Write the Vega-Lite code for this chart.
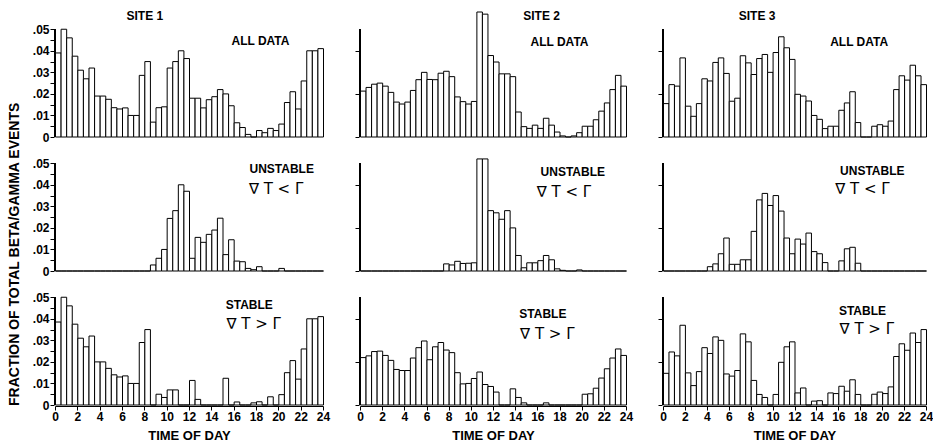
{
"$schema":"https://vega.github.io/schema/vega-lite/v6.json",
"background":"white",
"padding":{"left":7,"top":9,"right":2,"bottom":2},
"config":{"view":{"stroke":null},"font":"Liberation Sans",
"axis":{"labelFont":"Liberation Sans","labelFontWeight":"bold","labelFontSize":12,"labelColor":"black","domainColor":"black","tickColor":"black","grid":false,"labelOverlap":false,"titleFont":"Liberation Sans","titleFontWeight":"bold","titleFontSize":13,"titleColor":"black"},
"header":{"titleFont":"Liberation Sans","titleFontWeight":"bold","titleFontSize":14,"titleColor":"black"},
"title":{"font":"Liberation Sans","fontWeight":"bold","fontSize":12,"color":"black","anchor":"middle"}},
"datasets":{"d":[
{"site":1,"cond":"A","hour":0,"frac":0.039},{"site":1,"cond":"A","hour":0.5,"frac":0.05},{"site":1,"cond":"A","hour":1,"frac":0.046},{"site":1,"cond":"A","hour":1.5,"frac":0.0375},{"site":1,"cond":"A","hour":2,"frac":0.031},{"site":1,"cond":"A","hour":2.5,"frac":0.027},{"site":1,"cond":"A","hour":3,"frac":0.032},{"site":1,"cond":"A","hour":3.5,"frac":0.019},{"site":1,"cond":"A","hour":4,"frac":0.019},{"site":1,"cond":"A","hour":4.5,"frac":0.0175},{"site":1,"cond":"A","hour":5,"frac":0.0136},{"site":1,"cond":"A","hour":5.5,"frac":0.013},{"site":1,"cond":"A","hour":6,"frac":0.0135},{"site":1,"cond":"A","hour":6.5,"frac":0.01},{"site":1,"cond":"A","hour":7,"frac":0.01},{"site":1,"cond":"A","hour":7.5,"frac":0.0286},{"site":1,"cond":"A","hour":8,"frac":0.035},{"site":1,"cond":"A","hour":8.5,"frac":0.0069},{"site":1,"cond":"A","hour":9,"frac":0.0136},{"site":1,"cond":"A","hour":9.5,"frac":0.014},{"site":1,"cond":"A","hour":10,"frac":0.032},{"site":1,"cond":"A","hour":10.5,"frac":0.035},{"site":1,"cond":"A","hour":11,"frac":0.04},{"site":1,"cond":"A","hour":11.5,"frac":0.0364},{"site":1,"cond":"A","hour":12,"frac":0.018},{"site":1,"cond":"A","hour":12.5,"frac":0.018},{"site":1,"cond":"A","hour":13,"frac":0.0135},{"site":1,"cond":"A","hour":13.5,"frac":0.0173},{"site":1,"cond":"A","hour":14,"frac":0.0187},{"site":1,"cond":"A","hour":14.5,"frac":0.022},{"site":1,"cond":"A","hour":15,"frac":0.02},{"site":1,"cond":"A","hour":15.5,"frac":0.0145},{"site":1,"cond":"A","hour":16,"frac":0.0066},{"site":1,"cond":"A","hour":16.5,"frac":0.0044},{"site":1,"cond":"A","hour":17,"frac":0.0012},{"site":1,"cond":"A","hour":17.5,"frac":0},{"site":1,"cond":"A","hour":18,"frac":0.003},{"site":1,"cond":"A","hour":18.5,"frac":0.002},{"site":1,"cond":"A","hour":19,"frac":0.004},{"site":1,"cond":"A","hour":19.5,"frac":0.003},{"site":1,"cond":"A","hour":20,"frac":0.006},{"site":1,"cond":"A","hour":20.5,"frac":0.016},{"site":1,"cond":"A","hour":21,"frac":0.021},{"site":1,"cond":"A","hour":21.5,"frac":0.013},{"site":1,"cond":"A","hour":22,"frac":0.026},{"site":1,"cond":"A","hour":22.5,"frac":0.04},{"site":1,"cond":"A","hour":23,"frac":0.04},{"site":1,"cond":"A","hour":23.5,"frac":0.041},
{"site":1,"cond":"U","hour":0,"frac":0},{"site":1,"cond":"U","hour":0.5,"frac":0},{"site":1,"cond":"U","hour":1,"frac":0},{"site":1,"cond":"U","hour":1.5,"frac":0},{"site":1,"cond":"U","hour":2,"frac":0},{"site":1,"cond":"U","hour":2.5,"frac":0},{"site":1,"cond":"U","hour":3,"frac":0},{"site":1,"cond":"U","hour":3.5,"frac":0},{"site":1,"cond":"U","hour":4,"frac":0},{"site":1,"cond":"U","hour":4.5,"frac":0},{"site":1,"cond":"U","hour":5,"frac":0},{"site":1,"cond":"U","hour":5.5,"frac":0},{"site":1,"cond":"U","hour":6,"frac":0},{"site":1,"cond":"U","hour":6.5,"frac":0},{"site":1,"cond":"U","hour":7,"frac":0},{"site":1,"cond":"U","hour":7.5,"frac":0},{"site":1,"cond":"U","hour":8,"frac":0},{"site":1,"cond":"U","hour":8.5,"frac":0.0028},{"site":1,"cond":"U","hour":9,"frac":0.0059},{"site":1,"cond":"U","hour":9.5,"frac":0.01},{"site":1,"cond":"U","hour":10,"frac":0.0244},{"site":1,"cond":"U","hour":10.5,"frac":0.028},{"site":1,"cond":"U","hour":11,"frac":0.04},{"site":1,"cond":"U","hour":11.5,"frac":0.037},{"site":1,"cond":"U","hour":12,"frac":0.0059},{"site":1,"cond":"U","hour":12.5,"frac":0.0156},{"site":1,"cond":"U","hour":13,"frac":0.0133},{"site":1,"cond":"U","hour":13.5,"frac":0.017},{"site":1,"cond":"U","hour":14,"frac":0.019},{"site":1,"cond":"U","hour":14.5,"frac":0.0245},{"site":1,"cond":"U","hour":15,"frac":0.0076},{"site":1,"cond":"U","hour":15.5,"frac":0.0145},{"site":1,"cond":"U","hour":16,"frac":0.0046},{"site":1,"cond":"U","hour":16.5,"frac":0.0043},{"site":1,"cond":"U","hour":17,"frac":0.0012},{"site":1,"cond":"U","hour":17.5,"frac":0.0006},{"site":1,"cond":"U","hour":18,"frac":0.002},{"site":1,"cond":"U","hour":18.5,"frac":0},{"site":1,"cond":"U","hour":19,"frac":0},{"site":1,"cond":"U","hour":19.5,"frac":0},{"site":1,"cond":"U","hour":20,"frac":0.0012},{"site":1,"cond":"U","hour":20.5,"frac":0},{"site":1,"cond":"U","hour":21,"frac":0},{"site":1,"cond":"U","hour":21.5,"frac":0},{"site":1,"cond":"U","hour":22,"frac":0},{"site":1,"cond":"U","hour":22.5,"frac":0},{"site":1,"cond":"U","hour":23,"frac":0},{"site":1,"cond":"U","hour":23.5,"frac":0},
{"site":1,"cond":"S","hour":0,"frac":0.0385},{"site":1,"cond":"S","hour":0.5,"frac":0.05},{"site":1,"cond":"S","hour":1,"frac":0.046},{"site":1,"cond":"S","hour":1.5,"frac":0.0375},{"site":1,"cond":"S","hour":2,"frac":0.031},{"site":1,"cond":"S","hour":2.5,"frac":0.027},{"site":1,"cond":"S","hour":3,"frac":0.032},{"site":1,"cond":"S","hour":3.5,"frac":0.02},{"site":1,"cond":"S","hour":4,"frac":0.02},{"site":1,"cond":"S","hour":4.5,"frac":0.017},{"site":1,"cond":"S","hour":5,"frac":0.014},{"site":1,"cond":"S","hour":5.5,"frac":0.013},{"site":1,"cond":"S","hour":6,"frac":0.0135},{"site":1,"cond":"S","hour":6.5,"frac":0.01},{"site":1,"cond":"S","hour":7,"frac":0.01},{"site":1,"cond":"S","hour":7.5,"frac":0.029},{"site":1,"cond":"S","hour":8,"frac":0.035},{"site":1,"cond":"S","hour":8.5,"frac":0},{"site":1,"cond":"S","hour":9,"frac":0.005},{"site":1,"cond":"S","hour":9.5,"frac":0.0035},{"site":1,"cond":"S","hour":10,"frac":0.007},{"site":1,"cond":"S","hour":10.5,"frac":0.007},{"site":1,"cond":"S","hour":11,"frac":0},{"site":1,"cond":"S","hour":11.5,"frac":0},{"site":1,"cond":"S","hour":12,"frac":0.0114},{"site":1,"cond":"S","hour":12.5,"frac":0.0026},{"site":1,"cond":"S","hour":13,"frac":0},{"site":1,"cond":"S","hour":13.5,"frac":0},{"site":1,"cond":"S","hour":14,"frac":0},{"site":1,"cond":"S","hour":14.5,"frac":0},{"site":1,"cond":"S","hour":15,"frac":0.0124},{"site":1,"cond":"S","hour":15.5,"frac":0},{"site":1,"cond":"S","hour":16,"frac":0.0014},{"site":1,"cond":"S","hour":16.5,"frac":0},{"site":1,"cond":"S","hour":17,"frac":0},{"site":1,"cond":"S","hour":17.5,"frac":0.001},{"site":1,"cond":"S","hour":18,"frac":0.0015},{"site":1,"cond":"S","hour":18.5,"frac":0},{"site":1,"cond":"S","hour":19,"frac":0.0038},{"site":1,"cond":"S","hour":19.5,"frac":0},{"site":1,"cond":"S","hour":20,"frac":0.0048},{"site":1,"cond":"S","hour":20.5,"frac":0.015},{"site":1,"cond":"S","hour":21,"frac":0.0206},{"site":1,"cond":"S","hour":21.5,"frac":0.012},{"site":1,"cond":"S","hour":22,"frac":0.026},{"site":1,"cond":"S","hour":22.5,"frac":0.04},{"site":1,"cond":"S","hour":23,"frac":0.04},{"site":1,"cond":"S","hour":23.5,"frac":0.041},
{"site":2,"cond":"A","hour":0,"frac":0.0213},{"site":2,"cond":"A","hour":0.5,"frac":0.023},{"site":2,"cond":"A","hour":1,"frac":0.0245},{"site":2,"cond":"A","hour":1.5,"frac":0.025},{"site":2,"cond":"A","hour":2,"frac":0.0236},{"site":2,"cond":"A","hour":2.5,"frac":0.0207},{"site":2,"cond":"A","hour":3,"frac":0.0162},{"site":2,"cond":"A","hour":3.5,"frac":0.0153},{"site":2,"cond":"A","hour":4,"frac":0.0162},{"site":2,"cond":"A","hour":4.5,"frac":0.0216},{"site":2,"cond":"A","hour":5,"frac":0.0266},{"site":2,"cond":"A","hour":5.5,"frac":0.03},{"site":2,"cond":"A","hour":6,"frac":0.0267},{"site":2,"cond":"A","hour":6.5,"frac":0.0266},{"site":2,"cond":"A","hour":7,"frac":0.0296},{"site":2,"cond":"A","hour":7.5,"frac":0.0305},{"site":2,"cond":"A","hour":8,"frac":0.028},{"site":2,"cond":"A","hour":8.5,"frac":0.0186},{"site":2,"cond":"A","hour":9,"frac":0.0164},{"site":2,"cond":"A","hour":9.5,"frac":0.0153},{"site":2,"cond":"A","hour":10,"frac":0.0165},{"site":2,"cond":"A","hour":10.5,"frac":0.058},{"site":2,"cond":"A","hour":11,"frac":0.057},{"site":2,"cond":"A","hour":11.5,"frac":0.0378},{"site":2,"cond":"A","hour":12,"frac":0.0348},{"site":2,"cond":"A","hour":12.5,"frac":0.0293},{"site":2,"cond":"A","hour":13,"frac":0.0293},{"site":2,"cond":"A","hour":13.5,"frac":0.028},{"site":2,"cond":"A","hour":14,"frac":0.0116},{"site":2,"cond":"A","hour":14.5,"frac":0.0048},{"site":2,"cond":"A","hour":15,"frac":0.004},{"site":2,"cond":"A","hour":15.5,"frac":0.0055},{"site":2,"cond":"A","hour":16,"frac":0.004},{"site":2,"cond":"A","hour":16.5,"frac":0.0087},{"site":2,"cond":"A","hour":17,"frac":0.0055},{"site":2,"cond":"A","hour":17.5,"frac":0.0023},{"site":2,"cond":"A","hour":18,"frac":0.0005},{"site":2,"cond":"A","hour":18.5,"frac":0},{"site":2,"cond":"A","hour":19,"frac":0.0005},{"site":2,"cond":"A","hour":19.5,"frac":0.002},{"site":2,"cond":"A","hour":20,"frac":0.005},{"site":2,"cond":"A","hour":20.5,"frac":0.005},{"site":2,"cond":"A","hour":21,"frac":0.008},{"site":2,"cond":"A","hour":21.5,"frac":0.012},{"site":2,"cond":"A","hour":22,"frac":0.0158},{"site":2,"cond":"A","hour":22.5,"frac":0.022},{"site":2,"cond":"A","hour":23,"frac":0.0286},{"site":2,"cond":"A","hour":23.5,"frac":0.0236},
{"site":2,"cond":"U","hour":0,"frac":0},{"site":2,"cond":"U","hour":0.5,"frac":0},{"site":2,"cond":"U","hour":1,"frac":0},{"site":2,"cond":"U","hour":1.5,"frac":0},{"site":2,"cond":"U","hour":2,"frac":0},{"site":2,"cond":"U","hour":2.5,"frac":0},{"site":2,"cond":"U","hour":3,"frac":0},{"site":2,"cond":"U","hour":3.5,"frac":0},{"site":2,"cond":"U","hour":4,"frac":0},{"site":2,"cond":"U","hour":4.5,"frac":0},{"site":2,"cond":"U","hour":5,"frac":0},{"site":2,"cond":"U","hour":5.5,"frac":0},{"site":2,"cond":"U","hour":6,"frac":0},{"site":2,"cond":"U","hour":6.5,"frac":0},{"site":2,"cond":"U","hour":7,"frac":0},{"site":2,"cond":"U","hour":7.5,"frac":0.0033},{"site":2,"cond":"U","hour":8,"frac":0.0028},{"site":2,"cond":"U","hour":8.5,"frac":0.0045},{"site":2,"cond":"U","hour":9,"frac":0.0035},{"site":2,"cond":"U","hour":9.5,"frac":0.0036},{"site":2,"cond":"U","hour":10,"frac":0.0038},{"site":2,"cond":"U","hour":10.5,"frac":0.052},{"site":2,"cond":"U","hour":11,"frac":0.052},{"site":2,"cond":"U","hour":11.5,"frac":0.028},{"site":2,"cond":"U","hour":12,"frac":0.027},{"site":2,"cond":"U","hour":12.5,"frac":0.024},{"site":2,"cond":"U","hour":13,"frac":0.028},{"site":2,"cond":"U","hour":13.5,"frac":0.02},{"site":2,"cond":"U","hour":14,"frac":0.0072},{"site":2,"cond":"U","hour":14.5,"frac":0.0015},{"site":2,"cond":"U","hour":15,"frac":0.0038},{"site":2,"cond":"U","hour":15.5,"frac":0.0038},{"site":2,"cond":"U","hour":16,"frac":0.0048},{"site":2,"cond":"U","hour":16.5,"frac":0.0072},{"site":2,"cond":"U","hour":17,"frac":0.0052},{"site":2,"cond":"U","hour":17.5,"frac":0.001},{"site":2,"cond":"U","hour":18,"frac":0.0003},{"site":2,"cond":"U","hour":18.5,"frac":0},{"site":2,"cond":"U","hour":19,"frac":0},{"site":2,"cond":"U","hour":19.5,"frac":0.0005},{"site":2,"cond":"U","hour":20,"frac":0},{"site":2,"cond":"U","hour":20.5,"frac":0},{"site":2,"cond":"U","hour":21,"frac":0},{"site":2,"cond":"U","hour":21.5,"frac":0},{"site":2,"cond":"U","hour":22,"frac":0},{"site":2,"cond":"U","hour":22.5,"frac":0},{"site":2,"cond":"U","hour":23,"frac":0},{"site":2,"cond":"U","hour":23.5,"frac":0},
{"site":2,"cond":"S","hour":0,"frac":0.022},{"site":2,"cond":"S","hour":0.5,"frac":0.0228},{"site":2,"cond":"S","hour":1,"frac":0.0248},{"site":2,"cond":"S","hour":1.5,"frac":0.025},{"site":2,"cond":"S","hour":2,"frac":0.023},{"site":2,"cond":"S","hour":2.5,"frac":0.0207},{"site":2,"cond":"S","hour":3,"frac":0.0165},{"site":2,"cond":"S","hour":3.5,"frac":0.016},{"site":2,"cond":"S","hour":4,"frac":0.016},{"site":2,"cond":"S","hour":4.5,"frac":0.0218},{"site":2,"cond":"S","hour":5,"frac":0.0266},{"site":2,"cond":"S","hour":5.5,"frac":0.0297},{"site":2,"cond":"S","hour":6,"frac":0.021},{"site":2,"cond":"S","hour":6.5,"frac":0.027},{"site":2,"cond":"S","hour":7,"frac":0.029},{"site":2,"cond":"S","hour":7.5,"frac":0.0255},{"site":2,"cond":"S","hour":8,"frac":0.0243},{"site":2,"cond":"S","hour":8.5,"frac":0.015},{"site":2,"cond":"S","hour":9,"frac":0.0098},{"site":2,"cond":"S","hour":9.5,"frac":0.01},{"site":2,"cond":"S","hour":10,"frac":0.0123},{"site":2,"cond":"S","hour":10.5,"frac":0.0153},{"site":2,"cond":"S","hour":11,"frac":0.0095},{"site":2,"cond":"S","hour":11.5,"frac":0.0086},{"site":2,"cond":"S","hour":12,"frac":0.006},{"site":2,"cond":"S","hour":12.5,"frac":0},{"site":2,"cond":"S","hour":13,"frac":0},{"site":2,"cond":"S","hour":13.5,"frac":0.0075},{"site":2,"cond":"S","hour":14,"frac":0.0035},{"site":2,"cond":"S","hour":14.5,"frac":0.001},{"site":2,"cond":"S","hour":15,"frac":0},{"site":2,"cond":"S","hour":15.5,"frac":0},{"site":2,"cond":"S","hour":16,"frac":0},{"site":2,"cond":"S","hour":16.5,"frac":0.001},{"site":2,"cond":"S","hour":17,"frac":0},{"site":2,"cond":"S","hour":17.5,"frac":0},{"site":2,"cond":"S","hour":18,"frac":0},{"site":2,"cond":"S","hour":18.5,"frac":0},{"site":2,"cond":"S","hour":19,"frac":0},{"site":2,"cond":"S","hour":19.5,"frac":0},{"site":2,"cond":"S","hour":20,"frac":0.005},{"site":2,"cond":"S","hour":20.5,"frac":0.0052},{"site":2,"cond":"S","hour":21,"frac":0.0078},{"site":2,"cond":"S","hour":21.5,"frac":0.0125},{"site":2,"cond":"S","hour":22,"frac":0.0168},{"site":2,"cond":"S","hour":22.5,"frac":0.0218},{"site":2,"cond":"S","hour":23,"frac":0.026},{"site":2,"cond":"S","hour":23.5,"frac":0.023},
{"site":3,"cond":"A","hour":0,"frac":0.0155},{"site":3,"cond":"A","hour":0.5,"frac":0.0243},{"site":3,"cond":"A","hour":1,"frac":0.0236},{"site":3,"cond":"A","hour":1.5,"frac":0.0367},{"site":3,"cond":"A","hour":2,"frac":0.0143},{"site":3,"cond":"A","hour":2.5,"frac":0.0096},{"site":3,"cond":"A","hour":3,"frac":0.0155},{"site":3,"cond":"A","hour":3.5,"frac":0.027},{"site":3,"cond":"A","hour":4,"frac":0.026},{"site":3,"cond":"A","hour":4.5,"frac":0.0346},{"site":3,"cond":"A","hour":5,"frac":0.0367},{"site":3,"cond":"A","hour":5.5,"frac":0.0295},{"site":3,"cond":"A","hour":6,"frac":0.0166},{"site":3,"cond":"A","hour":6.5,"frac":0.018},{"site":3,"cond":"A","hour":7,"frac":0.0377},{"site":3,"cond":"A","hour":7.5,"frac":0.0344},{"site":3,"cond":"A","hour":8,"frac":0.029},{"site":3,"cond":"A","hour":8.5,"frac":0.0364},{"site":3,"cond":"A","hour":9,"frac":0.0383},{"site":3,"cond":"A","hour":9.5,"frac":0.03},{"site":3,"cond":"A","hour":10,"frac":0.0392},{"site":3,"cond":"A","hour":10.5,"frac":0.0465},{"site":3,"cond":"A","hour":11,"frac":0.0414},{"site":3,"cond":"A","hour":11.5,"frac":0.036},{"site":3,"cond":"A","hour":12,"frac":0.0198},{"site":3,"cond":"A","hour":12.5,"frac":0.019},{"site":3,"cond":"A","hour":13,"frac":0.0167},{"site":3,"cond":"A","hour":13.5,"frac":0.01},{"site":3,"cond":"A","hour":14,"frac":0.0082},{"site":3,"cond":"A","hour":14.5,"frac":0.0039},{"site":3,"cond":"A","hour":15,"frac":0.005},{"site":3,"cond":"A","hour":15.5,"frac":0.005},{"site":3,"cond":"A","hour":16,"frac":0.0124},{"site":3,"cond":"A","hour":16.5,"frac":0.0158},{"site":3,"cond":"A","hour":17,"frac":0.021},{"site":3,"cond":"A","hour":17.5,"frac":0.0067},{"site":3,"cond":"A","hour":18,"frac":0},{"site":3,"cond":"A","hour":18.5,"frac":0},{"site":3,"cond":"A","hour":19,"frac":0.005},{"site":3,"cond":"A","hour":19.5,"frac":0.0057},{"site":3,"cond":"A","hour":20,"frac":0.005},{"site":3,"cond":"A","hour":20.5,"frac":0.0074},{"site":3,"cond":"A","hour":21,"frac":0.022},{"site":3,"cond":"A","hour":21.5,"frac":0.0284},{"site":3,"cond":"A","hour":22,"frac":0.0264},{"site":3,"cond":"A","hour":22.5,"frac":0.0333},{"site":3,"cond":"A","hour":23,"frac":0.0284},{"site":3,"cond":"A","hour":23.5,"frac":0.0243},
{"site":3,"cond":"U","hour":0,"frac":0},{"site":3,"cond":"U","hour":0.5,"frac":0},{"site":3,"cond":"U","hour":1,"frac":0},{"site":3,"cond":"U","hour":1.5,"frac":0},{"site":3,"cond":"U","hour":2,"frac":0},{"site":3,"cond":"U","hour":2.5,"frac":0},{"site":3,"cond":"U","hour":3,"frac":0},{"site":3,"cond":"U","hour":3.5,"frac":0},{"site":3,"cond":"U","hour":4,"frac":0.002},{"site":3,"cond":"U","hour":4.5,"frac":0.0033},{"site":3,"cond":"U","hour":5,"frac":0.008},{"site":3,"cond":"U","hour":5.5,"frac":0.0153},{"site":3,"cond":"U","hour":6,"frac":0.0031},{"site":3,"cond":"U","hour":6.5,"frac":0.0031},{"site":3,"cond":"U","hour":7,"frac":0.0052},{"site":3,"cond":"U","hour":7.5,"frac":0.0052},{"site":3,"cond":"U","hour":8,"frac":0.0184},{"site":3,"cond":"U","hour":8.5,"frac":0.033},{"site":3,"cond":"U","hour":9,"frac":0.036},{"site":3,"cond":"U","hour":9.5,"frac":0.0304},{"site":3,"cond":"U","hour":10,"frac":0.035},{"site":3,"cond":"U","hour":10.5,"frac":0.0278},{"site":3,"cond":"U","hour":11,"frac":0.0153},{"site":3,"cond":"U","hour":11.5,"frac":0.008},{"site":3,"cond":"U","hour":12,"frac":0.0148},{"site":3,"cond":"U","hour":12.5,"frac":0.0125},{"site":3,"cond":"U","hour":13,"frac":0.0176},{"site":3,"cond":"U","hour":13.5,"frac":0.009},{"site":3,"cond":"U","hour":14,"frac":0.008},{"site":3,"cond":"U","hour":14.5,"frac":0.0039},{"site":3,"cond":"U","hour":15,"frac":0},{"site":3,"cond":"U","hour":15.5,"frac":0},{"site":3,"cond":"U","hour":16,"frac":0.0047},{"site":3,"cond":"U","hour":16.5,"frac":0.0103},{"site":3,"cond":"U","hour":17,"frac":0.011},{"site":3,"cond":"U","hour":17.5,"frac":0.0036},{"site":3,"cond":"U","hour":18,"frac":0},{"site":3,"cond":"U","hour":18.5,"frac":0},{"site":3,"cond":"U","hour":19,"frac":0},{"site":3,"cond":"U","hour":19.5,"frac":0},{"site":3,"cond":"U","hour":20,"frac":0},{"site":3,"cond":"U","hour":20.5,"frac":0},{"site":3,"cond":"U","hour":21,"frac":0},{"site":3,"cond":"U","hour":21.5,"frac":0},{"site":3,"cond":"U","hour":22,"frac":0},{"site":3,"cond":"U","hour":22.5,"frac":0},{"site":3,"cond":"U","hour":23,"frac":0},{"site":3,"cond":"U","hour":23.5,"frac":0},
{"site":3,"cond":"S","hour":0,"frac":0.0147},{"site":3,"cond":"S","hour":0.5,"frac":0.0246},{"site":3,"cond":"S","hour":1,"frac":0.0228},{"site":3,"cond":"S","hour":1.5,"frac":0.037},{"site":3,"cond":"S","hour":2,"frac":0.0149},{"site":3,"cond":"S","hour":2.5,"frac":0.009},{"site":3,"cond":"S","hour":3,"frac":0.0155},{"site":3,"cond":"S","hour":3.5,"frac":0.0266},{"site":3,"cond":"S","hour":4,"frac":0.0239},{"site":3,"cond":"S","hour":4.5,"frac":0.0316},{"site":3,"cond":"S","hour":5,"frac":0.03},{"site":3,"cond":"S","hour":5.5,"frac":0.0144},{"site":3,"cond":"S","hour":6,"frac":0.0134},{"site":3,"cond":"S","hour":6.5,"frac":0.016},{"site":3,"cond":"S","hour":7,"frac":0.033},{"site":3,"cond":"S","hour":7.5,"frac":0.0293},{"site":3,"cond":"S","hour":8,"frac":0.0114},{"site":3,"cond":"S","hour":8.5,"frac":0.0049},{"site":3,"cond":"S","hour":9,"frac":0.0035},{"site":3,"cond":"S","hour":9.5,"frac":0},{"site":3,"cond":"S","hour":10,"frac":0.0049},{"site":3,"cond":"S","hour":10.5,"frac":0.0198},{"site":3,"cond":"S","hour":11,"frac":0.027},{"site":3,"cond":"S","hour":11.5,"frac":0.0293},{"site":3,"cond":"S","hour":12,"frac":0.0056},{"site":3,"cond":"S","hour":12.5,"frac":0.0079},{"site":3,"cond":"S","hour":13,"frac":0},{"site":3,"cond":"S","hour":13.5,"frac":0.0018},{"site":3,"cond":"S","hour":14,"frac":0.002},{"site":3,"cond":"S","hour":14.5,"frac":0},{"site":3,"cond":"S","hour":15,"frac":0.0056},{"site":3,"cond":"S","hour":15.5,"frac":0.0053},{"site":3,"cond":"S","hour":16,"frac":0.0087},{"site":3,"cond":"S","hour":16.5,"frac":0.0064},{"site":3,"cond":"S","hour":17,"frac":0.0117},{"site":3,"cond":"S","hour":17.5,"frac":0.0049},{"site":3,"cond":"S","hour":18,"frac":0},{"site":3,"cond":"S","hour":18.5,"frac":0},{"site":3,"cond":"S","hour":19,"frac":0.005},{"site":3,"cond":"S","hour":19.5,"frac":0.006},{"site":3,"cond":"S","hour":20,"frac":0.0053},{"site":3,"cond":"S","hour":20.5,"frac":0.0084},{"site":3,"cond":"S","hour":21,"frac":0.0225},{"site":3,"cond":"S","hour":21.5,"frac":0.0284},{"site":3,"cond":"S","hour":22,"frac":0.0254},{"site":3,"cond":"S","hour":22.5,"frac":0.0334},{"site":3,"cond":"S","hour":23,"frac":0.029},{"site":3,"cond":"S","hour":23.5,"frac":0.035},
{"site":1,"cond":"A","hour":18.4,"frac":0.0445,"label":"ALL DATA","line":1},
{"site":1,"cond":"U","hour":20.3,"frac":0.0472,"label":"UNSTABLE","line":1},{"site":1,"cond":"U","hour":19.8,"frac":0.038,"label":"∇ T < Γ","line":2},
{"site":1,"cond":"S","hour":17.4,"frac":0.0465,"label":"STABLE","line":1},{"site":1,"cond":"S","hour":17.8,"frac":0.0375,"label":"∇ T > Γ","line":2},
{"site":2,"cond":"A","hour":18.0,"frac":0.0442,"label":"ALL DATA","line":1},
{"site":2,"cond":"U","hour":19.2,"frac":0.046,"label":"UNSTABLE","line":1},{"site":2,"cond":"U","hour":18.4,"frac":0.0367,"label":"∇ T < Γ","line":2},
{"site":2,"cond":"S","hour":16.5,"frac":0.042,"label":"STABLE","line":1},{"site":2,"cond":"S","hour":16.9,"frac":0.033,"label":"∇ T > Γ","line":2},
{"site":3,"cond":"A","hour":17.9,"frac":0.0442,"label":"ALL DATA","line":1},
{"site":3,"cond":"U","hour":19.1,"frac":0.0464,"label":"UNSTABLE","line":1},{"site":3,"cond":"U","hour":18.2,"frac":0.038,"label":"∇ T < Γ","line":2},
{"site":3,"cond":"S","hour":18.2,"frac":0.0436,"label":"STABLE","line":1},{"site":3,"cond":"S","hour":18.6,"frac":0.0353,"label":"∇ T > Γ","line":2}
]},
"spacing":24,
"hconcat":[
{"data":{"name":"d"},"transform":[{"filter":"datum.site==1"}],
 "title":{"text":"SITE 1","dx":-24,"offset":-11},
 "facet":{"row":{"field":"cond","type":"nominal","sort":["A","U","S"],"header":{"labels":false,"labelPadding":0,"title":"FRACTION OF TOTAL BETA/GAMMA EVENTS","titlePadding":0,"titleAnchor":"start"}}},
 "spacing":{"row":8},
 "spec":{"width":268,"height":125,
 "resolve":{"axis":{"y":"independent"}},
 "layer":[
  {"transform":[{"filter":"!datum.label"}],"mark":{"type":"bar","fill":"white","stroke":"black","strokeWidth":1,"binSpacing":0},
   "encoding":{"x":{"field":"hour","type":"quantitative","bin":{"binned":true,"step":0.5},"scale":{"domain":[0,24],"nice":false},"axis":{"values":[0,2,4,6,8,10,12,14,16,18,20,22,24],"format":"d","title":"TIME OF DAY","tickSize":4,"labelPadding":1,"titlePadding":7,"labelFlush":false,"labelOverlap":false}},
    "y":{"field":"frac","type":"quantitative","scale":{"domain":[0,0.058],"nice":false,"zero":true},"axis":{"title":null,"orient":"left","domain":false,"values":[0,0.01,0.02,0.03,0.04,0.05],"tickSize":4,"labelPadding":1,"labelOverlap":false,"labelBound":false,"labelExpr":"datum.value==0 ? '0' : replace(format(datum.value,'.2f'),'0.','.')"}}}},
  {"mark":{"type":"rule","color":"black","strokeWidth":1},"encoding":{"x":{"datum":0},"y":{"datum":0,"axis":{"title":null,"orient":"left","domain":false,"labels":false,"values":[0.005,0.015,0.025,0.035,0.045],"tickSize":4}},"y2":{"datum":0.05}}},
  {"transform":[{"filter":"datum.line==1"}],"mark":{"type":"text","font":"Liberation Sans","fontWeight":"bold","fontSize":12,"align":"center","baseline":"middle"},
   "encoding":{"x":{"field":"hour","type":"quantitative"},"y":{"field":"frac","type":"quantitative","axis":null},"text":{"field":"label"}}},
  {"transform":[{"filter":"datum.line==2"}],"mark":{"type":"text","font":"DejaVu Sans","fontSize":15,"align":"center","baseline":"middle"},
   "encoding":{"x":{"field":"hour","type":"quantitative"},"y":{"field":"frac","type":"quantitative","axis":null},"text":{"field":"label"}}}
 ]}},
{"data":{"name":"d"},"transform":[{"filter":"datum.site==2"}],
 "title":{"text":"SITE 2","dx":48,"offset":-11},
 "facet":{"row":{"field":"cond","type":"nominal","sort":["A","U","S"],"header":{"labels":false,"labelPadding":0,"title":null}}},
 "spacing":{"row":8},
 "spec":{"width":266,"height":125,"layer":[
  {"transform":[{"filter":"!datum.label"}],"mark":{"type":"bar","fill":"white","stroke":"black","strokeWidth":1,"binSpacing":0},
   "encoding":{"x":{"field":"hour","type":"quantitative","bin":{"binned":true,"step":0.5},"scale":{"domain":[0,24],"nice":false},"axis":{"values":[0,2,4,6,8,10,12,14,16,18,20,22,24],"format":"d","title":"TIME OF DAY","tickSize":4,"labelPadding":1,"titlePadding":7,"labelFlush":false,"labelOverlap":false}},
    "y":{"field":"frac","type":"quantitative","scale":{"domain":[0,0.058],"nice":false,"zero":true},"axis":{"title":null,"domain":false,"values":[0,0.005,0.01,0.015,0.02,0.025,0.03,0.035,0.04,0.045,0.05],"tickSize":4,"labels":false}}}},
  {"mark":{"type":"rule","color":"black","strokeWidth":1},"encoding":{"x":{"datum":0},"y":{"datum":0},"y2":{"datum":0.05}}},
  {"transform":[{"filter":"datum.line==1"}],"mark":{"type":"text","font":"Liberation Sans","fontWeight":"bold","fontSize":12,"align":"center","baseline":"middle"},
   "encoding":{"x":{"field":"hour","type":"quantitative"},"y":{"field":"frac","type":"quantitative"},"text":{"field":"label"}}},
  {"transform":[{"filter":"datum.line==2"}],"mark":{"type":"text","font":"DejaVu Sans","fontSize":15,"align":"center","baseline":"middle"},
   "encoding":{"x":{"field":"hour","type":"quantitative"},"y":{"field":"frac","type":"quantitative"},"text":{"field":"label"}}}
 ]}},
{"data":{"name":"d"},"transform":[{"filter":"datum.site==3"}],
 "title":{"text":"SITE 3","dx":-38,"offset":-11},
 "facet":{"row":{"field":"cond","type":"nominal","sort":["A","U","S"],"header":{"labels":false,"labelPadding":0,"title":null}}},
 "spacing":{"row":8},
 "spec":{"width":263,"height":125,"layer":[
  {"transform":[{"filter":"!datum.label"}],"mark":{"type":"bar","fill":"white","stroke":"black","strokeWidth":1,"binSpacing":0},
   "encoding":{"x":{"field":"hour","type":"quantitative","bin":{"binned":true,"step":0.5},"scale":{"domain":[0,24],"nice":false},"axis":{"values":[0,2,4,6,8,10,12,14,16,18,20,22,24],"format":"d","title":"TIME OF DAY","tickSize":4,"labelPadding":1,"titlePadding":7,"labelFlush":false,"labelOverlap":false}},
    "y":{"field":"frac","type":"quantitative","scale":{"domain":[0,0.058],"nice":false,"zero":true},"axis":{"title":null,"domain":false,"values":[0,0.005,0.01,0.015,0.02,0.025,0.03,0.035,0.04,0.045,0.05],"tickSize":4,"labels":false}}}},
  {"mark":{"type":"rule","color":"black","strokeWidth":1},"encoding":{"x":{"datum":0},"y":{"datum":0},"y2":{"datum":0.05}}},
  {"transform":[{"filter":"datum.line==1"}],"mark":{"type":"text","font":"Liberation Sans","fontWeight":"bold","fontSize":12,"align":"center","baseline":"middle"},
   "encoding":{"x":{"field":"hour","type":"quantitative"},"y":{"field":"frac","type":"quantitative"},"text":{"field":"label"}}},
  {"transform":[{"filter":"datum.line==2"}],"mark":{"type":"text","font":"DejaVu Sans","fontSize":15,"align":"center","baseline":"middle"},
   "encoding":{"x":{"field":"hour","type":"quantitative"},"y":{"field":"frac","type":"quantitative"},"text":{"field":"label"}}}
 ]}}
]
}
